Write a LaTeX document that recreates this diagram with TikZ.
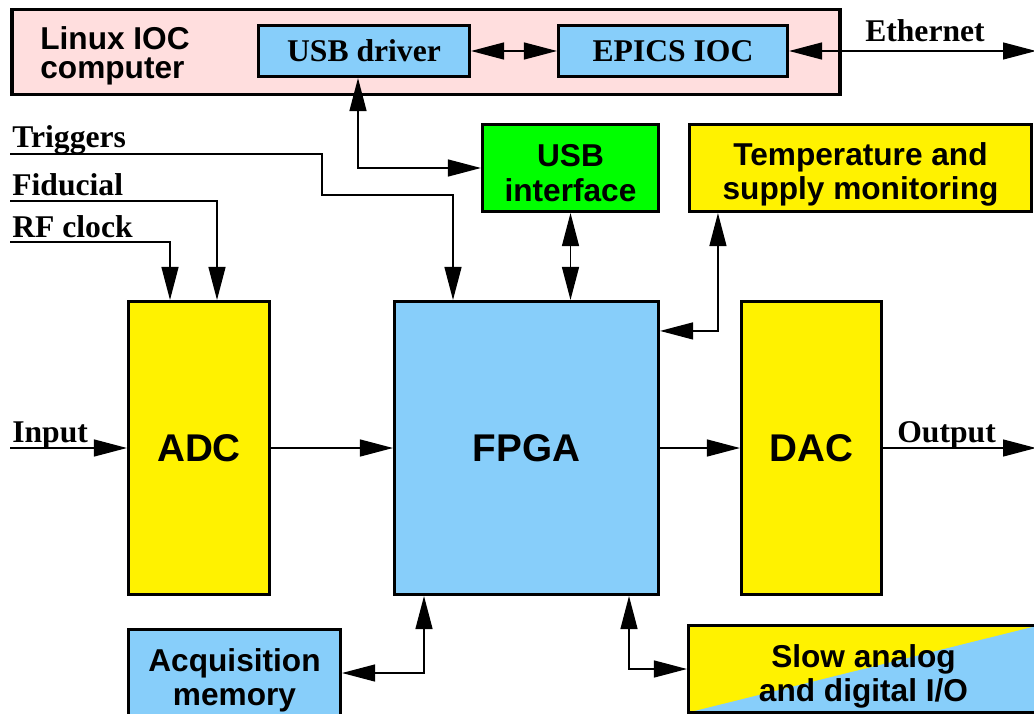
\documentclass[tikz,border=0pt]{standalone}
\usepackage{fontspec}
\setmainfont{Liberation Serif}
\setsansfont{Liberation Sans}
\usetikzlibrary{arrows.meta}
\definecolor{iocpink}{RGB}{255,222,222}
\definecolor{skyblue}{RGB}{135,206,250}
\newcommand{\lowtop}[1]{\rule{0pt}{#1}}
\tikzset{
  box/.style={draw, line width=1.8pt, inner sep=0pt, align=center,
    font=\sffamily\bfseries\fontsize{18}{19.5}\selectfont},
  bigbox/.style={box, font=\sffamily\bfseries\fontsize{22}{24}\selectfont},
  lbl/.style={inner sep=0pt, font=\bfseries\fontsize{18}{19.5}\selectfont},
  sig/.style={line width=0.75pt, -{Triangle[length=0.66cm,width=0.34cm]}},
  dbl/.style={line width=0.75pt,
    {Triangle[length=0.66cm,width=0.34cm]}-{Triangle[length=0.66cm,width=0.34cm]}},
}
\begin{document}
\begin{tikzpicture}[x=0.02cm, y=-0.02cm]
\clip (0,0) rectangle (1034,713);

% host computer
\node [box, fill=iocpink, line width=2.2pt, minimum width=16.58cm, minimum height=1.7cm] (linux) at (426,52) {};
\node [anchor=west, inner sep=0pt, align=left, font=\sffamily\bfseries\fontsize{18}{16.5}\selectfont] (linuxlbl) at (40,56) {Linux IOC\\computer};
\node [box, fill=skyblue, minimum width=4.22cm, minimum height=1.02cm, font=\bfseries\fontsize{18}{19.5}\selectfont] (usbdrv) at (364,51) {USB driver};
\node [box, fill=skyblue, minimum width=4.58cm, minimum height=1.02cm, font=\bfseries\fontsize{18}{19.5}\selectfont] (epics) at (673,51) {EPICS IOC};

% interface boxes
\node [box, fill=green, minimum width=3.52cm, minimum height=1.74cm] (usbif) at (570.5,168) {\lowtop{0.65cm}USB\\interface};
\node [box, fill=yellow, minimum width=6.84cm, minimum height=1.74cm] (temp) at (860.5,168) {\lowtop{0.70cm}Temperature and\\supply monitoring};

% signal chain
\node [bigbox, fill=yellow, minimum width=2.82cm, minimum height=5.86cm] (adc) at (199,448) {ADC};
\node [bigbox, fill=skyblue, minimum width=5.28cm, minimum height=5.86cm] (fpga) at (526.5,448) {FPGA};
\node [bigbox, fill=yellow, minimum width=2.80cm, minimum height=5.86cm] (dac) at (811.5,448) {DAC};

\node [box, fill=skyblue, minimum width=4.24cm, minimum height=1.74cm] (acq) at (234.5,673) {\lowtop{0.74cm}Acquisition\\memory};
\node [box, minimum width=7.0cm, minimum height=1.74cm,
  path picture={
    \fill [yellow] (path picture bounding box.north west) rectangle (path picture bounding box.south east);
    \fill [skyblue] (path picture bounding box.south west) -- (path picture bounding box.north east)
      -- (path picture bounding box.south east) -- cycle;
  }] (slow) at (863.5,669) {\lowtop{0.74cm}Slow analog\\and digital I/O};

% labels
\node [lbl, anchor=base] (ethlbl) at (925,42) {Ethernet};
\node [lbl, anchor=base west] (trig) at (12,148) {Triggers};
\node [lbl, anchor=base west] (fid) at (12,195) {Fiducial};
\node [lbl, anchor=base west] (rfclk) at (12,237) {RF clock};
\node [lbl, anchor=base west] (inlbl) at (12,442) {Input};
\node [lbl, anchor=base west] (outlbl) at (897,442) {Output};

\coordinate (ethend) at (1036,51);
\coordinate (trigin) at (10,154);
\coordinate (fidin) at (10,201);
\coordinate (rfin) at (10,242);
\coordinate (inpt) at (10,448);
\coordinate (outpt) at (1036,448);

% connections
\draw [dbl] (usbdrv) -- (epics);
\draw [dbl] (epics) -- (ethend);
\draw [dbl] ([xshift=-0.12cm]usbdrv.south) |- (usbif);
\draw [dbl] (usbif.south) -- (usbif.south |- fpga.north);
\draw [dbl] ([xshift=0.6cm]temp.south west) |- ([yshift=-0.62cm]fpga.north east);

\draw [sig] (trigin) -| (322,195) -| (453,0 |- fpga.north);
\draw [sig] (fidin) -| (217,0 |- adc.north);
\draw [sig] (rfin) -| (170,0 |- adc.north);

\draw [sig] (inpt) -- (adc);
\draw [sig] (adc) -- (fpga);
\draw [sig] (fpga) -- (dac);
\draw [sig] (dac) -- (outpt);

\draw [dbl] (424,0 |- fpga.south) |- (acq);
\draw [dbl] (629,0 |- fpga.south) |- (slow);
\end{tikzpicture}
\end{document}
